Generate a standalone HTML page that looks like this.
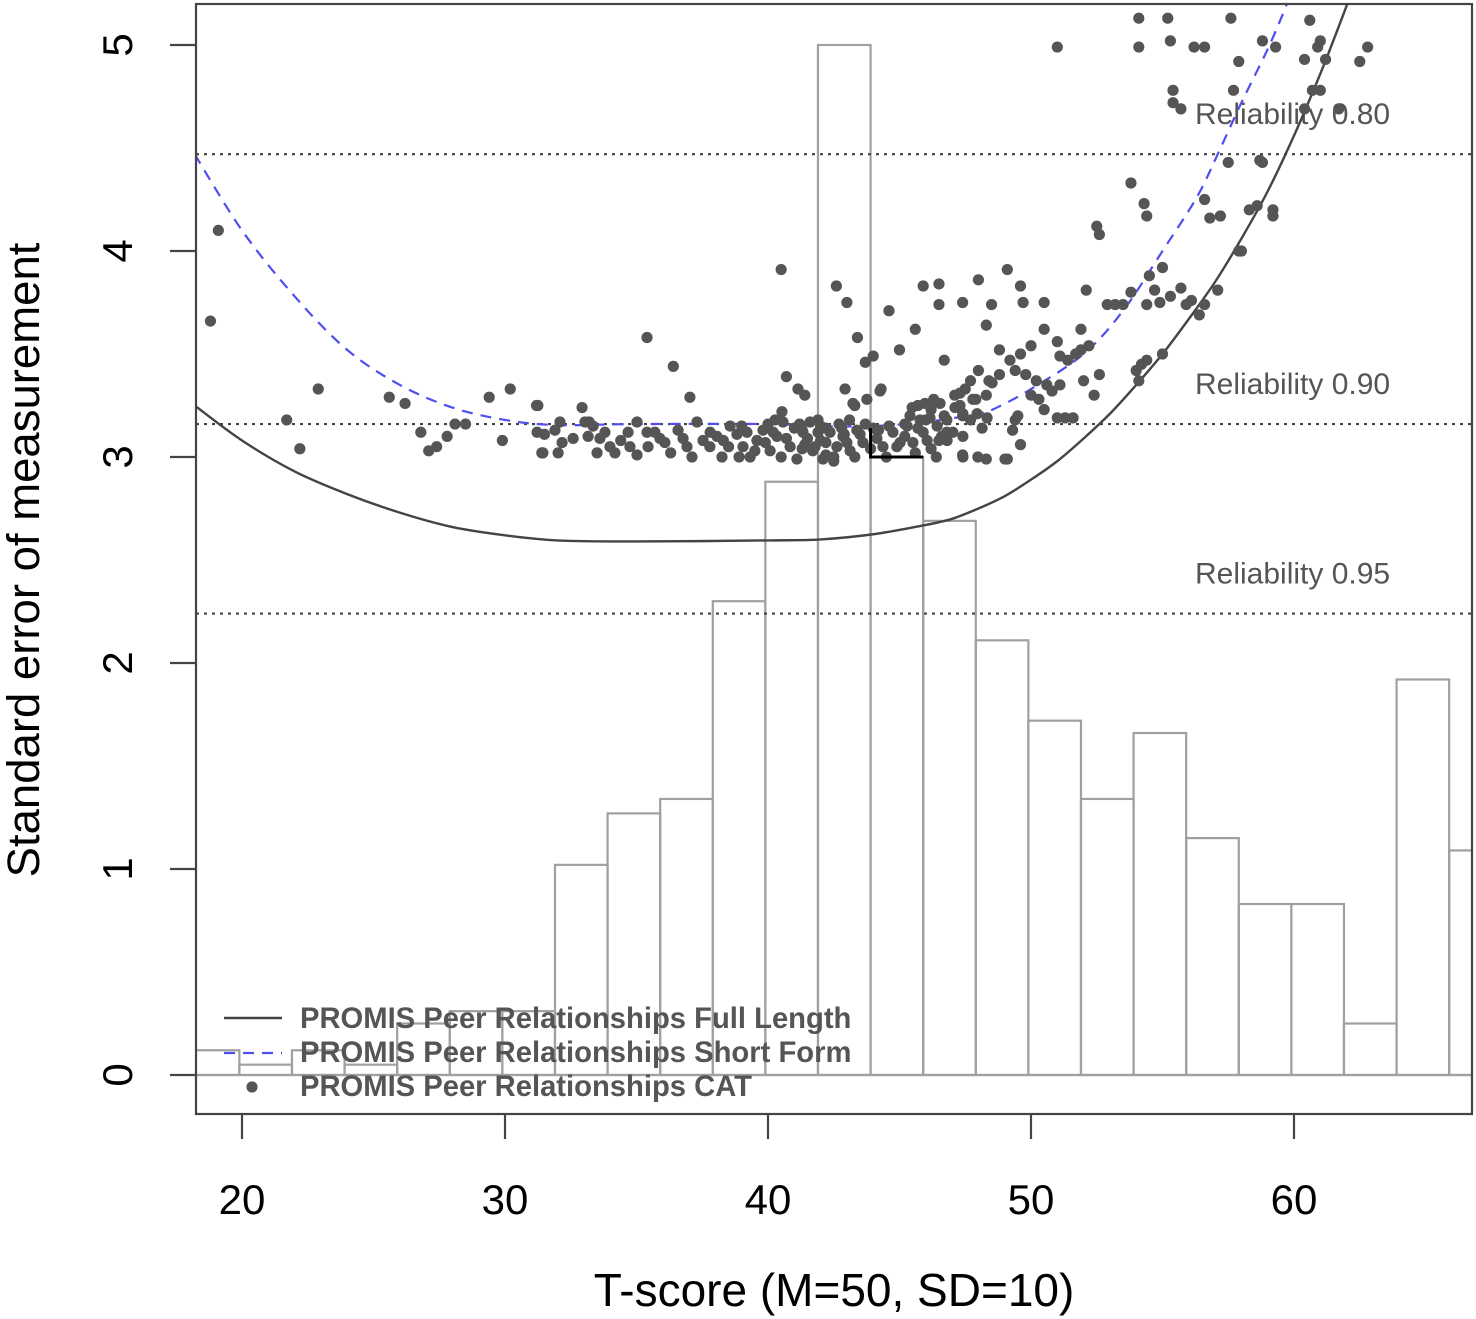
<!DOCTYPE html>
<html><head><meta charset="utf-8"><style>
html,body{margin:0;padding:0;background:#fff}
svg{display:block}
text{font-family:"Liberation Sans",sans-serif}
</style></head><body>
<svg id="chart" width="1476" height="1319" viewBox="0 0 1476 1319" xmlns="http://www.w3.org/2000/svg">
<g id="hist"></g>
<g id="refs"></g>
<g id="curves"></g>
<g id="pts"></g>
<g id="axes"></g>
<g id="legend"></g>
</svg>
<script>
const binStarts=[17.9,19.9,21.9,23.9,25.9,27.9,29.9,31.9,33.9,35.9,37.9,39.9,41.9,43.9,45.9,47.9,49.9,51.9,53.9,55.9,57.9,59.9,61.9,63.9,65.9];
const binHeights=[0.12,0.05,0.12,0.05,0.25,0.31,0.31,1.02,1.27,1.34,2.30,2.88,5.0,3.0,2.69,2.11,1.72,1.34,1.66,1.15,0.83,0.83,0.25,1.92,1.09];
const binWidth=2;
const fullT=[18.2,20,22,24,26,28,30,32,35,40,42,44,46,47,48,49,50,51,52,53,54,55,56,57,58,59,60,61,62,62.4];
const fullSE=[3.25,3.08,2.93,2.82,2.73,2.66,2.62,2.595,2.59,2.595,2.60,2.625,2.67,2.70,2.75,2.81,2.89,2.98,3.09,3.21,3.35,3.50,3.67,3.85,4.06,4.29,4.56,4.86,5.19,5.33];
const shortT=[18.2,20,22,24,26,28,30,32,35,40,42,44,46,48,48.7,50,52,53.5,55,56.3,57.1,58,59,59.7,60];
const shortSE=[4.47,4.1,3.78,3.52,3.35,3.24,3.18,3.155,3.16,3.16,3.15,3.15,3.17,3.21,3.24,3.33,3.5,3.71,4.0,4.26,4.47,4.72,4.98,5.19,5.3];
const relSE=[4.47,3.16,2.24];
const relLabels=["Reliability 0.80","Reliability 0.90","Reliability 0.95"];
const xTicks=[20,30,40,50,60];
const yTicks=[0,1,2,3,4,5];
const catT=[18.8,19.1,21.7,22.2,22.9,25.6,26.2,26.8,27.1,27.4,27.8,28.1,28.5,29.4,30.2,29.9,31.2,31.4,31.5,33.2,35.4,36.4,40.5,40.7,42.6,43.0,43.4,44.0,44.6,44.3,45.0,45.9,46.5,46.5,45.6,46.7,47.4,48.0,48.3,48.5,49.1,49.6,49.7,50.5,51.0,50.5,52.1,52.5,52.6,53.8,54.3,54.4,54.1,54.1,55.2,55.3,55.4,55.4,55.7,56.2,56.6,57.6,57.9,58.8,59.3,57.7,56.6,56.8,57.2,57.5,58.7,58.3,58.6,59.2,59.2,58.0,57.9,57.1,56.6,56.4,55.9,56.1,55.3,55.7,54.9,54.4,54.5,55.0,54.7,53.2,53.5,52.9,53.8,60.6,61.0,60.9,60.4,61.2,60.7,61.0,60.4,61.7,62.8,62.5,58.8,55.0,54.4,54.1,54.0,54.2,52.6,52.4,52.0,51.7,51.1,51.4,51.9,52.2,51.9,51.0,51.1,50.8,50.6,51.3,51.6,51.0,50.5,50.0,49.6,49.2,48.8,49.4,49.8,50.2,50.3,50.0,49.5,49.3,49.1,49.6,49.4,48.8,48.4,48.3,48.0,47.7,47.5,47.9,47.3,47.1,47.4,47.7,46.8,46.7,46.3,46.2,46.0,45.7,45.4,46.5,46.8,46.4,47.4,48.3,45.7,45.2,43.7,43.3,44.0,43.1,42.9,42.7,42.0,42.2,42.2,42.5,41.7,41.3,41.4,41.9,41.4,
31.25,32.93,37.03,41.14,42.93,44.26,43.76,43.23,40.53,40.27,31.22,31.44,32.09,31.9,32.17,32.59,32.02,33.04,33.35,33.16,33.61,33.5,33.99,34.18,34.68,34.75,35.02,35.4,35.44,35.02,35.89,36.08,36.58,36.92,37.11,36.77,37.3,37.53,37.79,38.06,38.25,38.56,38.82,39.05,39.32,39.58,39.81,40.08,40.34,40.57,40.84,41.1,41.33,41.6,41.79,42.09,42.36,42.62,42.85,43.12,43.38,43.61,44.14,44.37,44.75,45.02,45.29,45.51,45.78,46.05,46.16,46.43,46.81,47.03,47.41,47.41,47.98,48.14,49.01,47.3,47.79,48.52,46.54,45.48,45.97,47.11,47.41,47.95,48.33,
38.5,38.9,39.2,39.5,39.9,40.2,40.5,40.7,41.0,41.3,41.5,41.9,42.2,42.5,42.8,43.0,43.3,43.5,43.9,44.2,44.5,44.9,45.2,45.6,45.9,46.2,46.6,39.0,40.0,41.2,42.0,43.7,44.6,37.8,38.3,36.3,35.7,34.4,33.8];
const catSE=[3.66,4.10,3.18,3.04,3.33,3.29,3.26,3.12,3.03,3.05,3.10,3.16,3.16,3.29,3.33,3.08,3.25,3.02,3.11,3.17,3.58,3.44,3.91,3.39,3.83,3.75,3.58,3.49,3.71,3.33,3.52,3.83,3.84,3.74,3.62,3.47,3.75,3.86,3.64,3.74,3.91,3.83,3.75,3.75,4.99,3.62,3.81,4.12,4.08,4.33,4.23,4.17,5.13,4.99,5.13,5.02,4.78,4.72,4.69,4.99,4.99,5.13,4.92,5.02,4.99,4.78,4.25,4.16,4.17,4.43,4.44,4.20,4.22,4.20,4.17,4.00,4.00,3.81,3.74,3.69,3.74,3.76,3.78,3.82,3.75,3.74,3.88,3.92,3.81,3.74,3.74,3.74,3.80,5.12,5.02,4.99,4.93,4.93,4.78,4.78,4.69,4.69,4.99,4.92,4.43,3.50,3.47,3.37,3.42,3.45,3.40,3.30,3.37,3.50,3.49,3.47,3.52,3.54,3.62,3.56,3.35,3.32,3.35,3.19,3.19,3.19,3.23,3.54,3.50,3.47,3.52,3.42,3.40,3.37,3.28,3.30,3.20,3.13,2.99,3.06,3.18,3.40,3.37,3.30,3.42,3.37,3.33,3.28,3.25,3.30,3.20,3.18,3.18,3.20,3.28,3.23,3.18,3.25,3.20,3.08,3.12,3.00,3.01,2.99,3.14,3.16,3.46,3.25,3.14,3.18,3.11,3.16,3.08,3.14,3.01,2.98,3.03,3.13,3.30,3.18,3.06,
3.25,3.24,3.29,3.33,3.33,3.32,3.28,3.26,3.22,3.18,3.12,3.02,3.17,3.13,3.07,3.09,3.02,3.17,3.15,3.10,3.09,3.02,3.05,3.02,3.12,3.05,3.01,3.12,3.05,3.17,3.09,3.07,3.13,3.05,3.00,3.09,3.17,3.08,3.05,3.10,3.00,3.15,3.11,3.05,3.00,3.08,3.13,3.03,3.10,3.17,3.05,2.99,3.12,3.17,3.05,2.99,3.12,3.05,3.10,3.03,3.13,3.07,3.09,3.05,3.12,3.07,3.15,3.07,3.18,3.08,3.19,3.15,3.08,3.12,3.10,3.00,3.00,3.14,2.99,3.31,3.28,3.36,3.26,3.24,3.26,3.24,3.21,3.21,3.19,
3.05,3.0,3.12,3.03,3.07,3.12,3.0,3.09,3.14,3.04,3.09,3.12,3.07,3.0,3.14,3.07,3.0,3.11,3.04,3.13,3.0,3.05,3.1,3.02,3.12,3.04,3.1,3.15,3.16,3.16,3.15,3.16,3.15,3.12,3.08,3.02,3.12,3.08,3.12];

const NS="http://www.w3.org/2000/svg";
const L=196,R=1472,T=4,B=1114;
const sx=v=>242+(v-20)*26.3;
const sy=v=>1075-v*206;
function mk(tag,attrs,parent){const e=document.createElementNS(NS,tag);for(const k in attrs)e.setAttribute(k,attrs[k]);parent.appendChild(e);return e;}
const svg=document.getElementById('chart');
const defs=mk('defs',{},svg);
const cp=mk('clipPath',{id:'plotclip'},defs);
mk('rect',{x:L,y:T,width:R-L,height:B-T},cp);
['hist','refs','curves','pts'].forEach(id=>document.getElementById(id).setAttribute('clip-path','url(#plotclip)'));

const hist=document.getElementById('hist');
binStarts.forEach((s,i)=>{
  const x0=sx(s),x1=sx(s+binWidth),y0=sy(binHeights[i]);
  const r=mk('rect',{x:x0,y:y0,width:x1-x0,height:sy(0)-y0,fill:'none',stroke:'#a0a0a0','stroke-width':2.2},hist);
  
  
});
mk('line',{x1:L,x2:R,y1:sy(0),y2:sy(0),stroke:'#a0a0a0','stroke-width':2.2},hist);

const refs=document.getElementById('refs');
relSE.forEach((v,i)=>{
  const l=mk('line',{x1:L,x2:R,y1:sy(v),y2:sy(v),stroke:'#444','stroke-width':2.2,'stroke-dasharray':'3 5'},refs);
  
  
  const t=mk('text',{x:1195,y:sy(v)-30,'font-size':30,fill:'#555'},refs);
  t.textContent=relLabels[i];
  
  
});

function smooth(xs,ys){
  const P=xs.map((x,i)=>[sx(x),sy(ys[i])]);
  let d='M'+P[0][0]+','+P[0][1];
  for(let i=0;i<P.length-1;i++){
    const p0=P[Math.max(0,i-1)],p1=P[i],p2=P[i+1],p3=P[Math.min(P.length-1,i+2)];
    const c1=[p1[0]+(p2[0]-p0[0])/6,p1[1]+(p2[1]-p0[1])/6];
    const c2=[p2[0]-(p3[0]-p1[0])/6,p2[1]-(p3[1]-p1[1])/6];
    d+=` C${c1[0]},${c1[1]} ${c2[0]},${c2[1]} ${p2[0]},${p2[1]}`;
  }
  return d;
}
const curves=document.getElementById('curves');
const fl=mk('path',{d:smooth(fullT,fullSE),fill:'none',stroke:'#444','stroke-width':2.4},curves);


const sf=mk('path',{d:smooth(shortT,shortSE),fill:'none',stroke:'#4f4ff0','stroke-width':2.2,'stroke-dasharray':'11 8'},curves);



const pts=document.getElementById('pts');
catT.forEach((t,i)=>{
  const c=mk('circle',{cx:sx(t),cy:sy(catSE[i]),r:5.6,fill:'#555'},pts);
  
  
});
mk('path',{d:`M${sx(43.9)},${sy(3.14)} L${sx(43.9)},${sy(3.0)} L${sx(45.9)},${sy(3.0)}`,fill:'none',stroke:'#000','stroke-width':3},pts);

const axes=document.getElementById('axes');
const box=mk('rect',{x:L,y:T,width:R-L,height:B-T,fill:'none',stroke:'#444','stroke-width':2.2},axes);


xTicks.forEach(v=>{
  mk('line',{x1:sx(v),x2:sx(v),y1:B,y2:B+25,stroke:'#444','stroke-width':2.2},axes);
  const t=mk('text',{x:sx(v),y:1214,'font-size':42,'text-anchor':'middle',fill:'#000'},axes);
  t.textContent=v;
  
  
});
yTicks.forEach(v=>{
  mk('line',{x1:L,x2:L-26,y1:sy(v),y2:sy(v),stroke:'#444','stroke-width':2.2},axes);
  const t=mk('text',{x:0,y:0,'font-size':42,'text-anchor':'middle',fill:'#000',transform:`translate(132,${sy(v)}) rotate(-90)`},axes);
  t.textContent=v;
  
  
});
const xt=mk('text',{x:834,y:1306,'font-size':46,'text-anchor':'middle',fill:'#000'},axes);
xt.textContent='T-score (M=50, SD=10)';


const yt=mk('text',{x:0,y:0,'font-size':45.5,'text-anchor':'middle',fill:'#000',transform:'translate(39,560) rotate(-90)'},axes);
yt.textContent='Standard error of measurement';



const lg=document.getElementById('legend');
mk('line',{x1:224,x2:282,y1:1018,y2:1018,stroke:'#444','stroke-width':2.4},lg);
mk('line',{x1:224,x2:282,y1:1053,y2:1053,stroke:'#4f4ff0','stroke-width':2.2,'stroke-dasharray':'11 8'},lg);
mk('circle',{cx:252,cy:1087,r:5.6,fill:'#555'},lg);
const legTexts=['PROMIS Peer Relationships Full Length','PROMIS Peer Relationships Short Form','PROMIS Peer Relationships CAT'];
legTexts.forEach((s,i)=>{
  const t=mk('text',{x:300,y:1028+i*34,'font-size':29.2,'font-weight':'bold',fill:'#555'},lg);
  t.textContent=s;
  
  
});
</script>
</body></html>
